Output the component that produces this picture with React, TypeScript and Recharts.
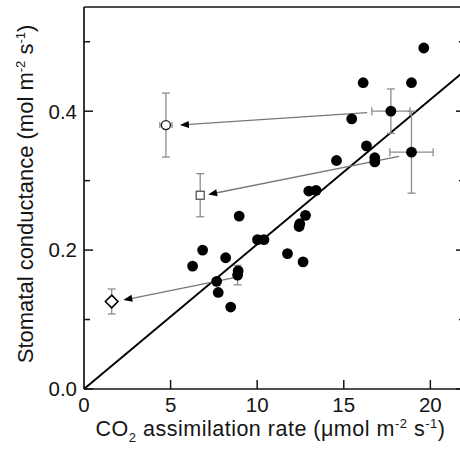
import { ScatterChart, Scatter, XAxis, YAxis, ErrorBar, ReferenceLine } from 'recharts';

const xTicks = [0, 5, 10, 15, 20];
const yTicks = [0, 0.1, 0.2, 0.3, 0.4, 0.5];
const yLabelled = [0, 0.2, 0.4];

// filled circles without error bars
const leafX = [19.62, 16.12, 18.91, 15.46, 16.31, 14.58, 16.79, 16.79, 12.98, 13.4, 12.79, 8.96, 12.46, 12.42, 10.02, 10.39, 6.85, 8.18, 6.27, 11.75, 12.65, 8.9, 7.66, 7.75, 8.47];
const leafY = [0.491, 0.441, 0.441, 0.389, 0.35, 0.329, 0.333, 0.327, 0.285, 0.286, 0.25, 0.249, 0.238, 0.234, 0.215, 0.215, 0.2, 0.189, 0.177, 0.195, 0.183, 0.17, 0.155, 0.139, 0.118];

// filled circles with error bars
const measX = [17.72, 18.91, 8.87];
const measY = [0.4, 0.341, 0.164];
const measXErr = [1.1, 1.25, 0];
const measYErr = [0.032, 0.059, 0.014];

// open symbols
const openX = [4.73, 6.71, 1.6];
const openY = [0.38, 0.279, 0.126];
const openXErr = [0.35, 0, 0];
const openYErr = [0.046, 0.031, 0.018];
const openShape = ['circle', 'square', 'diamond'];

// arrows: from measured points to open symbols
const arrowFromX = [16.35, 18.19, 8.62];
const arrowFromY = [0.398, 0.335, 0.16];
const arrowToX = [5.54, 7.17, 2.27];
const arrowToY = [0.38, 0.28, 0.128];

// regression line through origin
const fitX = [0, 22];
const fitY = [0, 0.4585];

const leaf = leafX.map((x, i) => ({ x, y: leafY[i] }));
const meas = measX.map((x, i) => ({ x, y: measY[i], xErr: measXErr[i], yErr: measYErr[i] }));
const open = openX.map((x, i) => ({ x, y: openY[i], xErr: openXErr[i], yErr: openYErr[i], kind: openShape[i] }));

const ink = '#151515';
const grey = '#8c8c8c';
const font = '"Liberation Sans", Arial, sans-serif';
const axisLine = { stroke: ink, strokeWidth: 1.7 };

function LeftTick({ x, y, payload }: any) {
  const ax = x + 7;
  const major = yLabelled.includes(payload.value);
  return (
    <g>
      <line x1={ax} x2={ax + (major ? 9 : 6)} y1={y} y2={y} stroke={ink} strokeWidth={1.5} />
      {major && (
        <text x={x} y={y} dy="0.36em" textAnchor="end" fontSize={20.5} fill={ink} fontFamily={font}>
          {payload.value.toFixed(1)}
        </text>
      )}
    </g>
  );
}

function RightTick({ x, y, payload }: any) {
  const major = yLabelled.includes(payload.value);
  return <line x1={x} x2={x - (major ? 9 : 6)} y1={y} y2={y} stroke={ink} strokeWidth={1.5} />;
}

function BottomTick({ x, y, payload }: any) {
  const ay = y - 8;
  return (
    <g>
      {payload.value !== 0 && <line x1={x} x2={x} y1={ay} y2={ay - 9} stroke={ink} strokeWidth={1.5} />}
      <text x={x} y={y} dy="0.71em" textAnchor="middle" fontSize={20.5} fill={ink} fontFamily={font}>
        {payload.value}
      </text>
    </g>
  );
}

function TopTick({ x, y, payload }: any) {
  if (payload.value === 0) return <g />;
  return <line x1={x} x2={x} y1={y} y2={y + 9} stroke={ink} strokeWidth={1.5} />;
}

function XTitle({ viewBox }: any) {
  const cx = viewBox.x + viewBox.width / 2 - 4;
  return (
    <text x={cx} y={viewBox.y + 47} textAnchor="middle" fontSize={21.5} letterSpacing={0.5} fill={ink} fontFamily={font}>
      CO<tspan fontSize={13} dy={6}>2</tspan>
      <tspan dy={-6}> assimilation rate (μmol m</tspan>
      <tspan fontSize={13} dy={-8}>-2</tspan>
      <tspan dy={8}> s</tspan>
      <tspan fontSize={13} dy={-8}>-1</tspan>
      <tspan dy={8}>)</tspan>
    </text>
  );
}

function YTitle({ viewBox }: any) {
  const cx = 33;
  const cy = viewBox.y + viewBox.height / 2 - 4;
  return (
    <text x={cx} y={cy} transform={`rotate(-90 ${cx} ${cy})`} textAnchor="middle" fontSize={22} fill={ink} fontFamily={font}>
      Stomatal conductance (mol m<tspan fontSize={13} dy={-8}>-2</tspan>
      <tspan dy={8}> s</tspan>
      <tspan fontSize={13} dy={-8}>-1</tspan>
      <tspan dy={8}>)</tspan>
    </text>
  );
}

function Dot({ cx, cy }: any) {
  return <circle cx={cx} cy={cy} r={5.4} fill="#000" />;
}

function OpenMark({ cx, cy, payload }: any) {
  if (payload.kind === 'circle') return <circle cx={cx} cy={cy} r={4.5} fill="#fff" stroke={ink} strokeWidth={1.3} />;
  if (payload.kind === 'square') return <rect x={cx - 4} y={cy - 4} width={8} height={8} fill="#fff" stroke="#444" strokeWidth={1.2} />;
  return (
    <polygon
      points={`${cx},${cy - 6.3} ${cx + 6.3},${cy} ${cx},${cy + 6.3} ${cx - 6.3},${cy}`}
      fill="#fff"
      stroke="#000"
      strokeWidth={1.6}
    />
  );
}

function Arrow({ x1, y1, x2, y2 }: any) {
  const a = Math.atan2(y2 - y1, x2 - x1);
  const len = 9;
  const hw = 3.6;
  const bx = x2 - len * Math.cos(a);
  const by = y2 - len * Math.sin(a);
  const px = -Math.sin(a) * hw;
  const py = Math.cos(a) * hw;
  return (
    <g>
      <line x1={x1} y1={y1} x2={bx} y2={by} stroke="#777" strokeWidth={1.3} />
      <polygon points={`${x2},${y2} ${bx + px},${by + py} ${bx - px},${by - py}`} fill="#000" />
    </g>
  );
}

export default function App() {
  return (
    <div style={{ position: 'absolute', left: 0, top: 0, width: 460, height: 452, overflow: 'hidden', background: '#fff' }}>
      <ScatterChart width={470} height={452} margin={{ top: 6, right: 4, bottom: 0, left: 0 }}>
        <XAxis
          dataKey="x"
          type="number"
          domain={[0, 22]}
          ticks={xTicks}
          allowDataOverflow
          height={63}
          tickSize={0}
          tickMargin={8}
          tick={(p: any) => <BottomTick {...p} />}
          tickLine={false}
          axisLine={axisLine}
          label={{ content: (p: any) => <XTitle {...p} /> }}
        />
        <XAxis
          xAxisId="top"
          orientation="top"
          type="number"
          domain={[0, 22]}
          ticks={xTicks}
          allowDataOverflow
          height={1}
          tickSize={0}
          tickMargin={0}
          tick={(p: any) => <TopTick {...p} />}
          tickLine={false}
          axisLine={axisLine}
        />
        <YAxis
          dataKey="y"
          type="number"
          domain={[0, 0.55]}
          ticks={yTicks}
          allowDataOverflow
          width={84}
          tickSize={0}
          tickMargin={7}
          tick={(p: any) => <LeftTick {...p} />}
          tickLine={false}
          axisLine={axisLine}
          label={{ content: (p: any) => <YTitle {...p} /> }}
        />
        <YAxis
          yAxisId="right"
          orientation="right"
          type="number"
          domain={[0, 0.55]}
          ticks={yTicks}
          allowDataOverflow
          width={1}
          tickSize={0}
          tickMargin={0}
          tick={(p: any) => <RightTick {...p} />}
          tickLine={false}
          axisLine={axisLine}
        />
        <ReferenceLine
          segment={[{ x: fitX[0], y: fitY[0] }, { x: fitX[1], y: fitY[1] }]}
          stroke="#000"
          strokeWidth={1.9}
        />
        {arrowFromX.map((x, i) => (
          <ReferenceLine
            key={i}
            segment={[{ x, y: arrowFromY[i] }, { x: arrowToX[i], y: arrowToY[i] }]}
            shape={(p: any) => <Arrow {...p} />}
          />
        ))}
        <Scatter data={leaf} shape={(p: any) => <Dot {...p} />} isAnimationActive={false} />
        <Scatter data={meas} shape={(p: any) => <Dot {...p} />} isAnimationActive={false}>
          <ErrorBar dataKey="xErr" direction="x" width={4} stroke={grey} strokeWidth={1.3} isAnimationActive={false} />
          <ErrorBar dataKey="yErr" direction="y" width={4} stroke={grey} strokeWidth={1.3} isAnimationActive={false} />
        </Scatter>
        <Scatter data={open} shape={(p: any) => <OpenMark {...p} />} isAnimationActive={false}>
          <ErrorBar dataKey="xErr" direction="x" width={3} stroke={grey} strokeWidth={1.3} isAnimationActive={false} />
          <ErrorBar dataKey="yErr" direction="y" width={4} stroke={grey} strokeWidth={1.3} isAnimationActive={false} />
        </Scatter>
      </ScatterChart>
    </div>
  );
}
